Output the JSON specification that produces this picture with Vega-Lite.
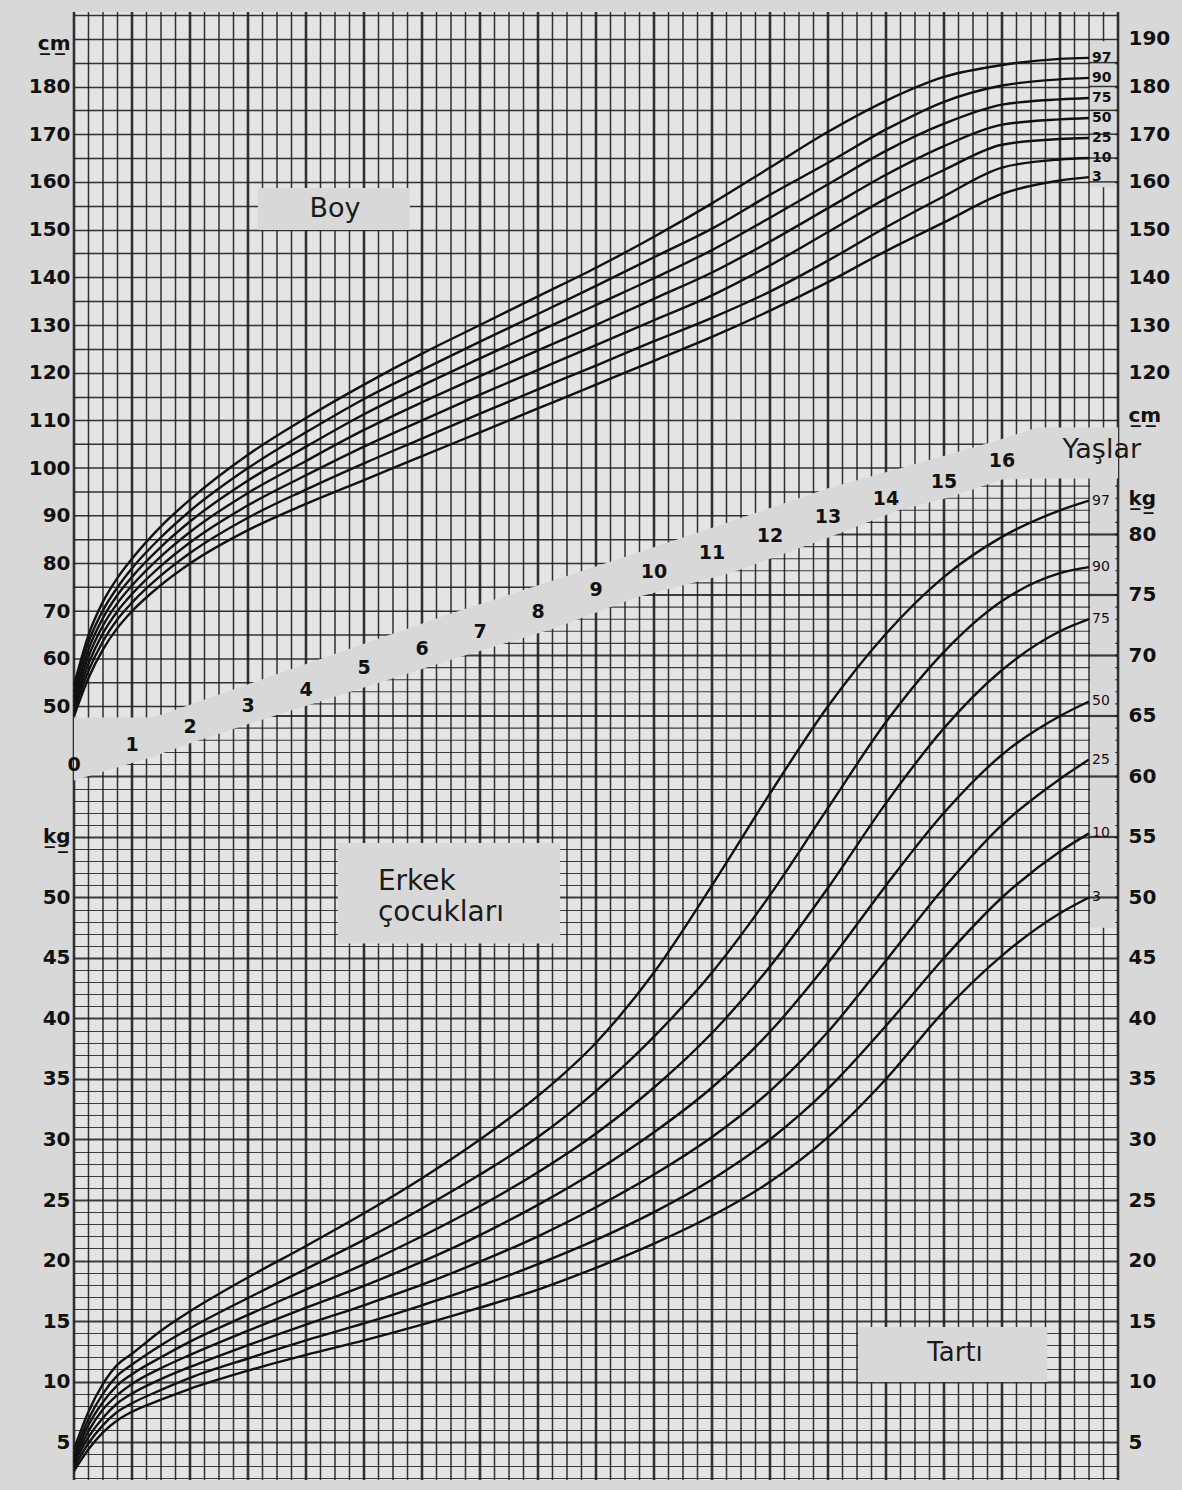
{
"$schema": "https://vega.github.io/schema/vega-lite/v6.json",
"width": 1044, "height": 1468, "autosize": "none",
"padding": {"left": 74, "top": 12, "right": 64, "bottom": 10},
"background": "#d8d8d8",
"config": {"view": {"stroke": null, "fill": "#e4e4e4"}, "text": {"font": "DejaVu Sans"}},
"datasets": {
"height": [
{"age":0,"3":48,"10":49,"25":50,"50":51,"75":52,"90":53.2,"97":54.5},
{"age":0.25,"3":56,"10":57.5,"25":59,"50":60.5,"75":62,"90":63.5,"97":65},
{"age":0.5,"3":62,"10":63.7,"25":65.4,"50":67,"75":68.6,"90":70.2,"97":72},
{"age":0.75,"3":66.5,"10":68.3,"25":70,"50":71.7,"75":73.4,"90":75,"97":77},
{"age":1,"3":70,"10":71.8,"25":73.6,"50":75.4,"75":77.2,"90":79,"97":81},
{"age":1.5,"3":75.5,"10":77.5,"25":79.5,"50":81.5,"75":83.5,"90":85.5,"97":87.8},
{"age":2,"3":80,"10":82.2,"25":84.4,"50":86.6,"75":88.8,"90":91,"97":93.4},
{"age":3,"3":87,"10":89.6,"25":92.2,"50":94.8,"75":97.4,"90":100,"97":102.8},
{"age":4,"3":92.5,"10":95.5,"25":98.5,"50":101.5,"75":104.5,"90":107.5,"97":110.5},
{"age":5,"3":97.5,"10":101,"25":104.5,"50":108,"75":111.3,"90":114.5,"97":117.5},
{"age":6,"3":102.5,"10":106.2,"25":110,"50":113.8,"75":117.3,"90":120.6,"97":124},
{"age":7,"3":107.5,"10":111.4,"25":115.4,"50":119.3,"75":123,"90":126.5,"97":130},
{"age":8,"3":112.5,"10":116.5,"25":120.6,"50":124.7,"75":128.6,"90":132.3,"97":136},
{"age":9,"3":117.5,"10":121.5,"25":125.8,"50":130,"75":134.2,"90":138.2,"97":142},
{"age":10,"3":122.5,"10":126.6,"25":131,"50":135.5,"75":139.8,"90":144.2,"97":148.5},
{"age":11,"3":127.5,"10":131.5,"25":136.2,"50":141,"75":145.7,"90":150.2,"97":155.5},
{"age":12,"3":133,"10":137,"25":142.5,"50":147.5,"75":152.5,"90":157.3,"97":163},
{"age":13,"3":139,"10":143.5,"25":149.5,"50":154.5,"75":159.5,"90":164,"97":170.5},
{"age":14,"3":145.5,"10":150.5,"25":156.5,"50":161.5,"75":166.5,"90":171,"97":177},
{"age":15,"3":151.5,"10":157,"25":162.5,"50":167.5,"75":172.2,"90":176.8,"97":182},
{"age":16,"3":157.5,"10":163,"25":167.8,"50":172,"75":176.2,"90":180.2,"97":184.5},
{"age":17,"3":160.3,"10":164.7,"25":169,"50":173.1,"75":177.3,"90":181.5,"97":185.8},
{"age":17.5,"3":161,"10":165,"25":169.2,"50":173.4,"75":177.6,"90":181.8,"97":186}
],
"weight": [
{"age":0,"3":2.6,"10":2.9,"25":3.2,"50":3.4,"75":3.7,"90":4.0,"97":4.4},
{"age":0.25,"3":4.4,"10":4.9,"25":5.4,"50":5.9,"75":6.4,"90":6.9,"97":7.5},
{"age":0.5,"3":5.8,"10":6.4,"25":7.0,"50":7.7,"75":8.3,"90":9.0,"97":9.8},
{"age":0.75,"3":6.8,"10":7.5,"25":8.2,"50":8.9,"75":9.7,"90":10.5,"97":11.4},
{"age":1,"3":7.5,"10":8.2,"25":9.0,"50":9.8,"75":10.6,"90":11.4,"97":12.3},
{"age":1.5,"3":8.5,"10":9.3,"25":10.2,"50":11.1,"75":12.0,"90":13.0,"97":14.2},
{"age":2,"3":9.4,"10":10.3,"25":11.2,"50":12.2,"75":13.3,"90":14.4,"97":15.8},
{"age":3,"3":10.9,"10":11.9,"25":13.0,"50":14.2,"75":15.5,"90":16.9,"97":18.6},
{"age":4,"3":12.2,"10":13.4,"25":14.7,"50":16.1,"75":17.6,"90":19.3,"97":21.2},
{"age":5,"3":13.4,"10":14.8,"25":16.3,"50":17.9,"75":19.7,"90":21.7,"97":23.9},
{"age":6,"3":14.7,"10":16.3,"25":18.0,"50":19.9,"75":22.0,"90":24.3,"97":26.8},
{"age":7,"3":16.1,"10":17.9,"25":19.9,"50":22.1,"75":24.5,"90":27.1,"97":30.0},
{"age":8,"3":17.6,"10":19.7,"25":22.0,"50":24.6,"75":27.3,"90":30.2,"97":33.6},
{"age":9,"3":19.4,"10":21.7,"25":24.4,"50":27.4,"75":30.5,"90":34.0,"97":38.0},
{"age":10,"3":21.4,"10":24.0,"25":27.1,"50":30.6,"75":34.3,"90":38.5,"97":43.8},
{"age":11,"3":23.7,"10":26.7,"25":30.2,"50":34.3,"75":38.8,"90":43.8,"97":51.0},
{"age":12,"3":26.5,"10":30.0,"25":34.0,"50":38.9,"75":44.3,"90":50.2,"97":58.6},
{"age":13,"3":30.2,"10":34.2,"25":38.9,"50":44.6,"75":50.8,"90":57.4,"97":65.8},
{"age":14,"3":35.0,"10":39.4,"25":44.8,"50":51.0,"75":57.8,"90":64.5,"97":71.8},
{"age":15,"3":40.6,"10":45.0,"25":50.8,"50":57.0,"75":64.0,"90":70.3,"97":76.5},
{"age":16,"3":45.2,"10":50.0,"25":56.0,"50":61.8,"75":68.8,"90":74.5,"97":79.8},
{"age":17,"3":48.7,"10":53.8,"25":59.8,"50":65.0,"75":72.0,"90":76.8,"97":82.0},
{"age":17.5,"3":50.0,"10":55.3,"25":61.4,"50":66.2,"75":73.0,"90":77.3,"97":82.8}
],
"vlines": [
{"a":0},{"a":0.25},{"a":0.5},{"a":0.75},{"a":1},{"a":1.25},{"a":1.5},{"a":1.75},{"a":2},{"a":2.25},{"a":2.5},{"a":2.75},
{"a":3},{"a":3.25},{"a":3.5},{"a":3.75},{"a":4},{"a":4.25},{"a":4.5},{"a":4.75},{"a":5},{"a":5.25},{"a":5.5},{"a":5.75},
{"a":6},{"a":6.25},{"a":6.5},{"a":6.75},{"a":7},{"a":7.25},{"a":7.5},{"a":7.75},{"a":8},{"a":8.25},{"a":8.5},{"a":8.75},
{"a":9},{"a":9.25},{"a":9.5},{"a":9.75},{"a":10},{"a":10.25},{"a":10.5},{"a":10.75},{"a":11},{"a":11.25},{"a":11.5},{"a":11.75},
{"a":12},{"a":12.25},{"a":12.5},{"a":12.75},{"a":13},{"a":13.25},{"a":13.5},{"a":13.75},{"a":14},{"a":14.25},{"a":14.5},{"a":14.75},
{"a":15},{"a":15.25},{"a":15.5},{"a":15.75},{"a":16},{"a":16.25},{"a":16.5},{"a":16.75},{"a":17},{"a":17.25},{"a":17.5},{"a":17.75},{"a":18}
],
"cmLines": [
{"cm":50,"a0":0,"a1":2.31},{"cm":55,"a0":0,"a1":3.64},{"cm":60,"a0":0,"a1":4.97},{"cm":65,"a0":0,"a1":6.3},
{"cm":70,"a0":0,"a1":7.63},{"cm":75,"a0":0,"a1":8.96},{"cm":80,"a0":0,"a1":10.3},{"cm":85,"a0":0,"a1":11.6},
{"cm":90,"a0":0,"a1":12.95},{"cm":95,"a0":0,"a1":14.3},{"cm":100,"a0":0,"a1":15.6},{"cm":105,"a0":0,"a1":16.95}
],
"kgLines": [
{"kg":63,"a0":0.44,"a1":18},{"kg":64,"a0":1.11,"a1":18},{"kg":65,"a0":1.79,"a1":18},{"kg":66,"a0":2.46,"a1":18},
{"kg":67,"a0":3.14,"a1":18},{"kg":68,"a0":3.81,"a1":18},{"kg":69,"a0":4.49,"a1":18},{"kg":70,"a0":5.16,"a1":18},
{"kg":71,"a0":5.84,"a1":18},{"kg":72,"a0":6.51,"a1":18},{"kg":73,"a0":7.19,"a1":18},{"kg":74,"a0":7.86,"a1":18},
{"kg":75,"a0":8.54,"a1":18},{"kg":76,"a0":9.21,"a1":18},{"kg":77,"a0":9.89,"a1":18},{"kg":78,"a0":10.56,"a1":18},
{"kg":79,"a0":11.24,"a1":18},{"kg":80,"a0":11.91,"a1":18},{"kg":81,"a0":12.59,"a1":18},{"kg":82,"a0":13.26,"a1":18},
{"kg":83,"a0":13.94,"a1":18},{"kg":84,"a0":14.61,"a1":18}
],
"band": [
{"age":0,"top":47.7,"bot":34.5},{"age":1,"top":47.7,"bot":38.2},{"age":1.36,"top":47.7,"bot":39.5},
{"age":2,"top":50.4,"bot":42.3},{"age":3.2,"top":55.5,"bot":47.1},{"age":5,"top":63.2,"bot":54.0},
{"age":6.5,"top":69.5,"bot":59.8},{"age":8.3,"top":76.6,"bot":66.5},{"age":9.7,"top":82.2,"bot":72.9},
{"age":11.3,"top":88.7,"bot":77.9},{"age":13,"top":95.8,"bot":85.4},{"age":14.2,"top":99.8,"bot":91.1},
{"age":15.1,"top":102.9,"bot":93.9},{"age":16,"top":106.1,"bot":97.6},{"age":16.6,"top":108.5,"bot":97.8},
{"age":18,"top":108.5,"bot":97.8}
],
"ages": [
{"age":0,"cm":37.8},{"age":1,"cm":41.9},{"age":2,"cm":45.7},{"age":3,"cm":50.1},{"age":4,"cm":53.5},
{"age":5,"cm":58.1},{"age":6,"cm":62.1},{"age":7,"cm":65.6},{"age":8,"cm":69.8},{"age":9,"cm":74.4},
{"age":10,"cm":78.2},{"age":11,"cm":82.2},{"age":12,"cm":85.8},{"age":13,"cm":89.8},{"age":14,"cm":93.5},
{"age":15,"cm":97.1},{"age":16,"cm":101.5}
]
},
"resolve": {"scale": {"y": "independent"}, "axis": {"y": "independent"}},
"layer": [
{"data": {"name": "cmLines"},
 "mark": {"type": "rule", "color": "#1e1e1e", "strokeWidth": 1.5, "opacity": 0.9},
 "encoding": {
  "x": {"field": "a0", "type": "quantitative", "scale": {"domain": [0, 18], "nice": false, "zero": false}, "axis": null},
  "x2": {"field": "a1"},
  "y": {"field": "cm", "type": "quantitative", "scale": {"domain": [-112.14, 195.62], "nice": false, "zero": false},
   "axis": {"orient": "left", "values": [50,60,70,80,90,100,110,115,120,125,130,135,140,145,150,155,160,165,170,175,180,185,189,190,195],
    "labelExpr": "datum.value == 189 ? 'c\u0332m\u0332' : (datum.value % 10 == 0 && datum.value <= 180 ? datum.label : '')",
    "grid": true, "gridColor": "#1e1e1e", "gridWidth": 1.5,
    "gridOpacity": {"condition": {"test": "datum.value < 108 || datum.value == 189", "value": 0}, "value": 0.9},
    "ticks": false, "domain": false, "title": null, "labelPadding": 4, "labelFont": "DejaVu Sans", "labelFontWeight": "bold",
    "labelFontSize": 20, "labelColor": "#111", "labelOverlap": false, "labelFlush": false}}
 }},
{"data": {"name": "kgLines"},
 "mark": {"type": "rule", "color": "#1e1e1e", "opacity": 0.85},
 "encoding": {
  "x": {"field": "a0", "type": "quantitative", "scale": {"domain": [0, 18], "nice": false, "zero": false}, "axis": null},
  "x2": {"field": "a1"},
  "y": {"field": "kg", "type": "quantitative", "scale": {"domain": [1.86, 123.18], "nice": false, "zero": false},
   "axis": {"orient": "left", "values": [2,3,4,5,6,7,8,9,10,11,12,13,14,15,16,17,18,19,20,21,22,23,24,25,26,27,28,29,30,31,32,33,34,35,36,37,38,39,40,41,42,43,44,45,46,47,48,49,50,51,52,53,54,55,56,57,58,59,60,61,62],
    "labelExpr": "datum.value == 55 ? 'k\u0332g\u0332' : (datum.value % 5 == 0 && datum.value <= 50 ? datum.label : '')",
    "grid": true, "gridColor": "#1e1e1e", "gridOpacity": 0.85,
    "gridWidth": {"condition": {"test": "datum.value % 5 == 0", "value": 2.2}, "value": 1.1},
    "ticks": false, "domain": false, "title": null, "labelPadding": 4, "labelFont": "DejaVu Sans", "labelFontWeight": "bold",
    "labelFontSize": 20, "labelColor": "#111", "labelOverlap": false, "labelFlush": false}},
  "strokeWidth": {"condition": {"test": "datum.kg % 5 == 0", "value": 2.2}, "value": 1.1}
 }},
{"data": {"name": "vlines"},
 "mark": {"type": "rule", "color": "#1e1e1e", "opacity": 0.9},
 "encoding": {
  "x": {"field": "a", "type": "quantitative", "scale": {"domain": [0, 18], "nice": false, "zero": false}, "axis": null},
  "strokeWidth": {"condition": {"test": "datum.a % 1 == 0", "value": 2.6}, "value": 1.5}
 }},
{"data": {"name": "band"},
 "mark": {"type": "area", "color": "#d8d8d8", "opacity": 1, "interpolate": "linear"},
 "encoding": {
  "x": {"field": "age", "type": "quantitative", "scale": {"domain": [0, 18], "nice": false, "zero": false}, "axis": null},
  "y": {"field": "bot", "type": "quantitative", "scale": {"domain": [-112.14, 195.62], "nice": false, "zero": false}, "axis": null},
  "y2": {"field": "top"}
 }},
{"data": {"values": [{}]},
 "mark": {"type": "rect", "color": "#d8d8d8"},
 "encoding": {
  "x": {"datum": 3.17, "type": "quantitative", "scale": {"domain": [0, 18], "nice": false, "zero": false}, "axis": null},
  "x2": {"datum": 5.79},
  "y": {"datum": 149.9, "type": "quantitative", "scale": {"domain": [-112.14, 195.62], "nice": false, "zero": false}, "axis": null},
  "y2": {"datum": 158.7}
 }},
{"data": {"values": [{}]},
 "mark": {"type": "rect", "color": "#d8d8d8"},
 "encoding": {
  "x": {"datum": 17.52, "type": "quantitative", "scale": {"domain": [0, 18], "nice": false, "zero": false}, "axis": null},
  "x2": {"datum": 17.95},
  "y": {"datum": 158.9, "type": "quantitative", "scale": {"domain": [-112.14, 195.62], "nice": false, "zero": false}, "axis": null},
  "y2": {"datum": 189.5}
 }},
{"data": {"values": [{"cm":160},{"cm":165},{"cm":170},{"cm":175},{"cm":180},{"cm":185}]},
 "mark": {"type": "rule", "color": "#1e1e1e", "strokeWidth": 1.5, "opacity": 0.9},
 "encoding": {
  "x": {"datum": 17.5, "type": "quantitative", "scale": {"domain": [0, 18], "nice": false, "zero": false}, "axis": null},
  "x2": {"datum": 18},
  "y": {"field": "cm", "type": "quantitative", "scale": {"domain": [-112.14, 195.62], "nice": false, "zero": false}, "axis": null}
 }},
{"data": {"values": [{}]},
 "mark": {"type": "rect", "color": "#d8d8d8"},
 "encoding": {
  "x": {"datum": 4.55, "type": "quantitative", "scale": {"domain": [0, 18], "nice": false, "zero": false}, "axis": null},
  "x2": {"datum": 8.38},
  "y": {"datum": 46.2, "type": "quantitative", "scale": {"domain": [1.86, 123.18], "nice": false, "zero": false}, "axis": null},
  "y2": {"datum": 54.5}
 }},
{"data": {"values": [{}]},
 "mark": {"type": "rect", "color": "#d8d8d8"},
 "encoding": {
  "x": {"datum": 13.52, "type": "quantitative", "scale": {"domain": [0, 18], "nice": false, "zero": false}, "axis": null},
  "x2": {"datum": 16.78},
  "y": {"datum": 9.96, "type": "quantitative", "scale": {"domain": [1.86, 123.18], "nice": false, "zero": false}, "axis": null},
  "y2": {"datum": 14.5}
 }},
{"data": {"values": [{}]},
 "mark": {"type": "rect", "color": "#d8d8d8"},
 "encoding": {
  "x": {"datum": 17.52, "type": "quantitative", "scale": {"domain": [0, 18], "nice": false, "zero": false}, "axis": null},
  "x2": {"datum": 17.95},
  "y": {"datum": 47.5, "type": "quantitative", "scale": {"domain": [1.86, 123.18], "nice": false, "zero": false}, "axis": null},
  "y2": {"datum": 86}
 }},
{"data": {"values": [{"kg":50},{"kg":55},{"kg":60},{"kg":65},{"kg":70},{"kg":75},{"kg":80}]},
 "mark": {"type": "rule", "color": "#1e1e1e", "strokeWidth": 2.2, "opacity": 0.85},
 "encoding": {
  "x": {"datum": 17.5, "type": "quantitative", "scale": {"domain": [0, 18], "nice": false, "zero": false}, "axis": null},
  "x2": {"datum": 18},
  "y": {"field": "kg", "type": "quantitative", "scale": {"domain": [1.86, 123.18], "nice": false, "zero": false}, "axis": null}
 }},
{"data": {"name": "height"},
 "transform": [{"fold": ["3","10","25","50","75","90","97"], "as": ["p", "v"]}],
 "mark": {"type": "line", "color": "#111", "strokeWidth": 2.4, "interpolate": "monotone"},
 "encoding": {
  "x": {"field": "age", "type": "quantitative", "scale": {"domain": [0, 18], "nice": false, "zero": false}, "axis": null},
  "y": {"field": "v", "type": "quantitative", "scale": {"domain": [-112.14, 195.62], "nice": false, "zero": false},
   "axis": {"orient": "right", "values": [120,130,140,150,160,170,180,190,111],
    "labelExpr": "datum.value == 111 ? 'c\u0332m\u0332' : datum.label",
    "grid": false, "ticks": false, "domain": false, "title": null, "labelPadding": 10, "labelFont": "DejaVu Sans", "labelFontWeight": "bold",
    "labelFontSize": 20, "labelColor": "#111", "labelOverlap": false, "labelFlush": false}},
  "detail": {"field": "p", "type": "nominal"}
 }},
{"data": {"name": "weight"},
 "transform": [{"fold": ["3","10","25","50","75","90","97"], "as": ["p", "v"]}],
 "mark": {"type": "line", "color": "#111", "strokeWidth": 2.4, "interpolate": "monotone"},
 "encoding": {
  "x": {"field": "age", "type": "quantitative", "scale": {"domain": [0, 18], "nice": false, "zero": false}, "axis": null},
  "y": {"field": "v", "type": "quantitative", "scale": {"domain": [1.86, 123.18], "nice": false, "zero": false},
   "axis": {"orient": "right", "values": [5,10,15,20,25,30,35,40,45,50,55,60,65,70,75,80,83],
    "labelExpr": "datum.value == 83 ? 'k\u0332g\u0332' : datum.label",
    "grid": false, "ticks": false, "domain": false, "title": null, "labelPadding": 10, "labelFont": "DejaVu Sans", "labelFontWeight": "bold",
    "labelFontSize": 20, "labelColor": "#111", "labelOverlap": false, "labelFlush": false}},
  "detail": {"field": "p", "type": "nominal"}
 }},
{"data": {"name": "height"},
 "transform": [{"fold": ["3","10","25","50","75","90","97"], "as": ["p", "v"]}, {"filter": "datum.age == 17.5"}],
 "mark": {"type": "text", "align": "left", "baseline": "middle", "dx": 3, "fontSize": 14, "fontWeight": "bold", "color": "#111"},
 "encoding": {
  "x": {"field": "age", "type": "quantitative", "scale": {"domain": [0, 18], "nice": false, "zero": false}, "axis": null},
  "y": {"field": "v", "type": "quantitative", "scale": {"domain": [-112.14, 195.62], "nice": false, "zero": false}, "axis": null},
  "text": {"field": "p", "type": "nominal"}
 }},
{"data": {"name": "weight"},
 "transform": [{"fold": ["3","10","25","50","75","90","97"], "as": ["p", "v"]}, {"filter": "datum.age == 17.5"}],
 "mark": {"type": "text", "align": "left", "baseline": "middle", "dx": 3, "fontSize": 14, "color": "#111"},
 "encoding": {
  "x": {"field": "age", "type": "quantitative", "scale": {"domain": [0, 18], "nice": false, "zero": false}, "axis": null},
  "y": {"field": "v", "type": "quantitative", "scale": {"domain": [1.86, 123.18], "nice": false, "zero": false}, "axis": null},
  "text": {"field": "p", "type": "nominal"}
 }},
{"data": {"name": "ages"},
 "mark": {"type": "text", "align": "center", "baseline": "middle", "fontSize": 19, "fontWeight": "bold", "color": "#111"},
 "encoding": {
  "x": {"field": "age", "type": "quantitative", "scale": {"domain": [0, 18], "nice": false, "zero": false}, "axis": null},
  "y": {"field": "cm", "type": "quantitative", "scale": {"domain": [-112.14, 195.62], "nice": false, "zero": false}, "axis": null},
  "text": {"field": "age", "type": "nominal"}
 }},
{"data": {"values": [{}]},
 "mark": {"type": "text", "text": "Boy", "align": "center", "baseline": "middle", "fontSize": 27, "color": "#1a1a1a"},
 "encoding": {
  "x": {"datum": 4.5, "type": "quantitative", "scale": {"domain": [0, 18], "nice": false, "zero": false}, "axis": null},
  "y": {"datum": 154.4, "type": "quantitative", "scale": {"domain": [-112.14, 195.62], "nice": false, "zero": false}, "axis": null}
 }},
{"data": {"values": [{}]},
 "mark": {"type": "text", "text": "Yaşlar", "align": "center", "baseline": "middle", "fontSize": 27, "color": "#1a1a1a"},
 "encoding": {
  "x": {"datum": 17.72, "type": "quantitative", "scale": {"domain": [0, 18], "nice": false, "zero": false}, "axis": null},
  "y": {"datum": 103.8, "type": "quantitative", "scale": {"domain": [-112.14, 195.62], "nice": false, "zero": false}, "axis": null}
 }},
{"data": {"values": [{}]},
 "mark": {"type": "text", "text": ["Erkek", "çocukları"], "align": "left", "baseline": "alphabetic", "lineHeight": 31, "fontSize": 28, "color": "#1a1a1a"},
 "encoding": {
  "x": {"datum": 5.24, "type": "quantitative", "scale": {"domain": [0, 18], "nice": false, "zero": false}, "axis": null},
  "y": {"datum": 50.62, "type": "quantitative", "scale": {"domain": [1.86, 123.18], "nice": false, "zero": false}, "axis": null}
 }},
{"data": {"values": [{}]},
 "mark": {"type": "text", "text": "Tartı", "align": "center", "baseline": "middle", "fontSize": 26, "color": "#1a1a1a"},
 "encoding": {
  "x": {"datum": 15.19, "type": "quantitative", "scale": {"domain": [0, 18], "nice": false, "zero": false}, "axis": null},
  "y": {"datum": 12.35, "type": "quantitative", "scale": {"domain": [1.86, 123.18], "nice": false, "zero": false}, "axis": null}
 }}
]
}
